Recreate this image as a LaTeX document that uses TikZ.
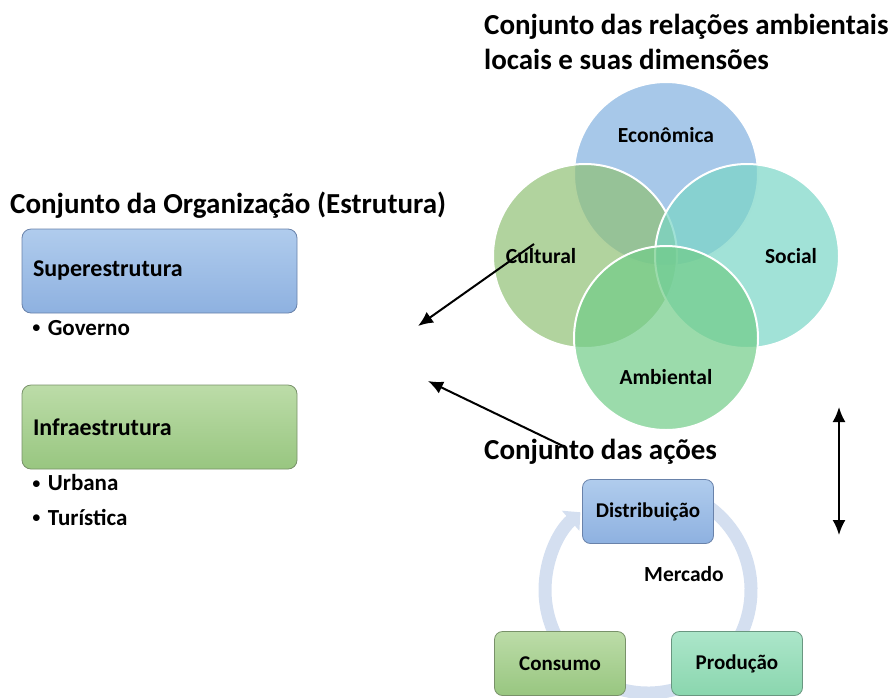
\documentclass[tikz,border=0pt]{standalone}
\usepackage{fontspec}
\setmainfont{Carlito}
\usetikzlibrary{arrows.meta}

\definecolor{econcol}{RGB}{130,177,223}
\definecolor{cultcol}{RGB}{144,192,117}
\definecolor{soccol}{RGB}{121,213,198}
\definecolor{ambcol}{RGB}{113,204,136}
\definecolor{bluetop}{RGB}{176,204,237}
\definecolor{bluebot}{RGB}{142,177,224}
\definecolor{blueline}{RGB}{105,130,170}
\definecolor{greentop}{RGB}{188,220,168}
\definecolor{greenbot}{RGB}{152,198,128}
\definecolor{greenline}{RGB}{120,145,105}
\definecolor{tealtop}{RGB}{172,230,202}
\definecolor{tealbot}{RGB}{138,214,174}
\definecolor{tealline}{RGB}{105,150,128}
\definecolor{ringcol}{RGB}{212,223,240}

\tikzset{
  venn/.style={circle,draw=white,line width=2pt,minimum size=184pt,inner sep=0pt,fill opacity=0.7},
  vennlabel/.style={font=\fontsize{21.5}{25}\selectfont\bfseries},
  title/.style={inner sep=0pt,anchor=west,font=\fontsize{29}{35}\selectfont\bfseries,align=left},
  bigbox/.style={draw,rounded corners=9pt,line width=0.8pt,minimum height=84pt,text width=253pt,
    inner xsep=11pt,align=left,font=\fontsize{24}{28}\selectfont\bfseries},
  cycbox/.style={draw,rounded corners=8pt,line width=0.8pt,minimum width=131pt,minimum height=64pt,
    inner sep=0pt,font=\fontsize{21}{25}\selectfont\bfseries},
  item/.style={inner sep=0pt,anchor=west,font=\fontsize{23}{27}\selectfont\bfseries},
  bluefill/.style={top color=bluetop,bottom color=bluebot,draw=blueline},
  greenfill/.style={top color=greentop,bottom color=greenbot,draw=greenline},
  tealfill/.style={top color=tealtop,bottom color=tealbot,draw=tealline}
}
\newcommand{\itembullet}{\raisebox{2.5pt}{\fontsize{18}{18}\selectfont$\bullet$}\hspace{7pt}}

\begin{document}
\begin{tikzpicture}[x=1pt,y=-1pt,every path/.style={>={Latex[length=15pt,width=13pt]}}]
	\useasboundingbox (0,0) rectangle (891,697);

	% titles
	\node[title] (tvenn) at (484,42) {Conjunto das relações ambientais\\locais e suas dimensões};
	\node[title] (torg) at (10,205) {Conjunto da Organização (Estrutura)};
	\node[title] (tacoes) at (484,452) {Conjunto das ações};

	% draw venn circles
	\node[venn,fill=econcol] (econ) at (666,174) {};
	\node[venn,fill=cultcol] (cult) at (585,256) {};
	\node[venn,fill=soccol] (soc) at (747,256) {};
	\node[venn,fill=ambcol] (amb) at (666,338) {};

	\node[vennlabel] (leconomica) at (666,135) {Econômica};
	\node[vennlabel] (lcultural) at (541,256) {Cultural};
	\node[vennlabel] (lsocial) at (791,256) {Social};
	\node[vennlabel] (lambiental) at (666,377) {Ambiental};

	% draw organization boxes
	\node[bigbox,bluefill] (super) at (159.5,271) {Superestrutura};
	\node[item] (governo) at (32,328) {\itembullet Governo};
	\node[bigbox,greenfill] (infra) at (159.5,427) {Infraestrutura};
	\node[item] (urbana) at (32,483) {\itembullet Urbana};
	\node[item] (turistica) at (32,517) {\itembullet Turística};

	% draw cycle ring
	\coordinate (cyc) at (648,590);
	\draw[ringcol,line width=13pt,-{Triangle[length=13pt,width=26pt]}] (cyc) ++(-60:103) arc (-60:229:103);

	% draw cycle boxes
	\node[cycbox,bluefill] (distrib) at (648,511.5) {Distribuição};
	\node[cycbox,greenfill] (consumo) at (560,663.5) {Consumo};
	\node[cycbox,tealfill] (producao) at (737,663.5) {Produção};
	\node[vennlabel] (mercado) at (684,574) {Mercado};

	% draw arrows
	\coordinate (a1s) at (534,244);
	\coordinate (a1e) at (418,326);
	\coordinate (a2s) at (563,446);
	\coordinate (a2e) at (428,381);
	\coordinate (a3t) at (839,407);
	\coordinate (a3b) at (839,535);
	\draw[->,line width=2pt] (a1s) to (a1e);
	\draw[->,line width=2pt] (a2s) to (a2e);
	\draw[<->,line width=2pt] (a3t) to (a3b);
\end{tikzpicture}
\end{document}
